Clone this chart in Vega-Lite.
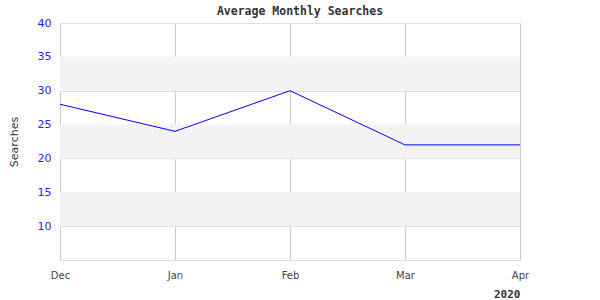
{
  "$schema": "https://vega.github.io/schema/vega-lite/v6.json",
  "autosize": "none",
  "width": 460,
  "height": 237,
  "padding": {"left": 60, "top": 23, "right": 80, "bottom": 40},
  "background": "white",
  "config": {
    "view": {"stroke": "#dddddd", "strokeWidth": 1},
    "axisY": {
      "title": "Searches",
      "titleFont": "DejaVu Sans",
      "titleFontSize": 11,
      "titleFontWeight": "normal",
      "titleColor": "#333333",
      "titlePadding": 18,
      "labelFont": "DejaVu Sans",
      "labelFontSize": 11,
      "labelColor": "#2222ff",
      "labelPadding": 9,
      "labelOverlap": false,
      "ticks": false,
      "domain": false,
      "grid": true,
      "gridColor": "#dddddd",
      "gridWidth": 1
    }
  },
  "title": {
    "text": "Average Monthly Searches",
    "font": "DejaVu Sans Mono",
    "fontSize": 11.5,
    "fontWeight": "bold",
    "color": "#333333",
    "anchor": "middle",
    "dx": 10,
    "offset": 0
  },
  "datasets": {
    "bands": [
      {"lo": 30, "hi": 35},
      {"lo": 20, "hi": 25},
      {"lo": 10, "hi": 15}
    ],
    "series": [
      {"month": "Dec", "searches": 28},
      {"month": "Jan", "searches": 24},
      {"month": "Feb", "searches": 30},
      {"month": "Mar", "searches": 22},
      {"month": "Apr", "searches": 22}
    ]
  },
  "layer": [
    {
      "data": {"name": "bands"},
      "mark": {"type": "rect", "color": "#f3f3f3"},
      "encoding": {
        "y": {"field": "lo", "type": "quantitative", "scale": {"domain": [5, 40], "nice": false, "zero": false},
          "axis": {"title": "Searches", "values": [10, 15, 20, 25, 30, 35, 40]}},
        "y2": {"field": "hi"}
      }
    },
    {
      "data": {"name": "series"},
      "mark": {"type": "line", "color": "#0000ff", "strokeWidth": 1},
      "encoding": {
        "x": {
          "field": "month",
          "type": "ordinal",
          "sort": ["Dec", "Jan", "Feb", "Mar", "Apr"],
          "scale": {"type": "point", "padding": 0},
          "axis": {
            "title": "2020",
            "titleFont": "DejaVu Sans Mono",
            "titleFontWeight": "bold",
            "titleFontSize": 11,
            "titleColor": "#333333",
            "titleAnchor": "end",
            "titlePadding": 8,
            "labelAngle": 0,
            "labelFont": "DejaVu Sans",
            "labelFontSize": 10,
            "labelColor": "#444444",
            "labelPadding": 10,
            "labelOverlap": false,
            "ticks": false,
            "domain": false,
            "grid": true,
            "gridColor": "#cccccc",
            "gridWidth": 1
          }
        },
        "y": {
          "field": "searches",
          "type": "quantitative",
          "scale": {"domain": [5, 40], "nice": false, "zero": false},
          "axis": {"title": "Searches", "values": [10, 15, 20, 25, 30, 35, 40]}
        }
      }
    }
  ]
}
